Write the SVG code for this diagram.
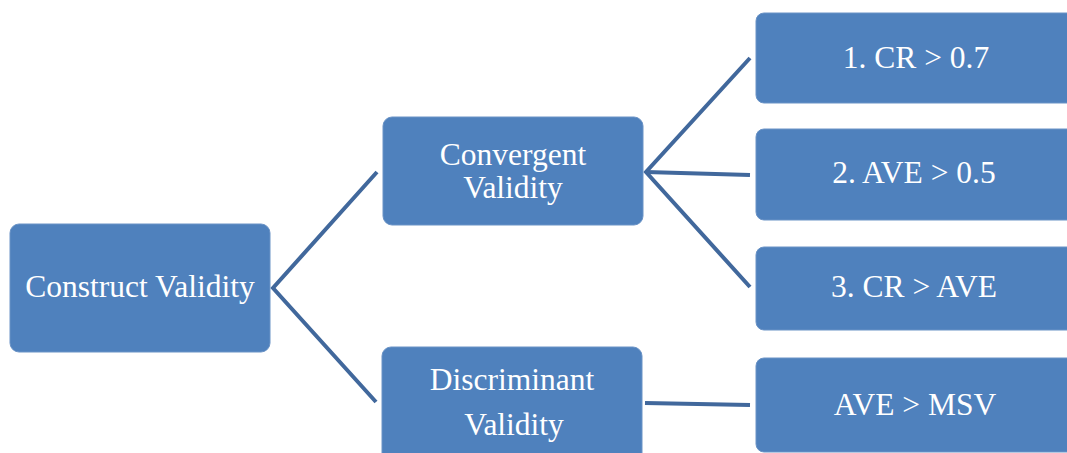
<svg xmlns="http://www.w3.org/2000/svg" width="1067" height="453" viewBox="0 0 1067 453">
  <style>
    .box { fill: #4f81bd; stroke: #6a93c6; stroke-width: 1; }
    .label { font-family: "Liberation Serif", "Times New Roman", serif; font-size: 31.5px; fill: #ffffff; text-anchor: middle; }
    .link { fill: none; stroke: #41689c; stroke-width: 4; stroke-linejoin: miter; }
  </style>
  <rect width="1067" height="453" fill="#ffffff"/>

  <!-- connectors -->
  <g id="connectors">
    <polyline class="link" points="377,172 273,288 376,402"/>
    <polyline class="link" points="750,58 646,172 750,287"/>
    <line class="link" x1="646" y1="172" x2="750" y2="175"/>
    <line class="link" x1="645" y1="403" x2="750" y2="405"/>
  </g>

  <g id="construct-validity">
    <rect class="box" x="10" y="224" width="260" height="128" rx="9"/>
    <text class="label" x="140" y="297">Construct Validity</text>
  </g>

  <g id="convergent-validity">
    <rect class="box" x="383" y="117" width="260" height="108" rx="9"/>
    <text class="label" x="513" y="165">Convergent</text>
    <text class="label" x="513" y="198">Validity</text>
  </g>

  <g id="discriminant-validity">
    <rect class="box" x="382" y="347" width="260" height="120" rx="9"/>
    <text class="label" x="512" y="390">Discriminant</text>
    <text class="label" x="514" y="435">Validity</text>
  </g>

  <g id="cr-07">
    <rect class="box" x="756" y="13" width="330" height="90" rx="8"/>
    <text class="label" x="916" y="68">1. CR &gt; 0.7</text>
  </g>

  <g id="ave-05">
    <rect class="box" x="756" y="129" width="330" height="91" rx="8"/>
    <text class="label" x="914" y="183">2. AVE &gt; 0.5</text>
  </g>

  <g id="cr-ave">
    <rect class="box" x="756" y="247" width="330" height="83" rx="8"/>
    <text class="label" x="914" y="297">3. CR &gt; AVE</text>
  </g>

  <g id="ave-msv">
    <rect class="box" x="756" y="358" width="330" height="94" rx="8"/>
    <text class="label" x="915" y="415">AVE &gt; MSV</text>
  </g>
</svg>
